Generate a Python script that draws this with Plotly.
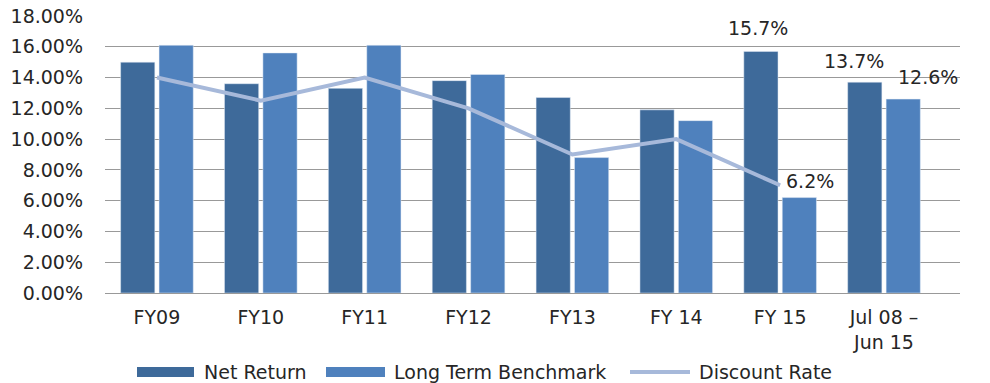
import plotly.graph_objects as go

categories = ["FY09", "FY10", "FY11", "FY12", "FY13", "FY 14", "FY 15", "Jul 08 –<br>Jun 15"]
net_return = [15.0, 13.6, 13.3, 13.8, 12.7, 11.9, 15.7, 13.7]
long_term_benchmark = [16.1, 15.6, 16.1, 14.2, 8.8, 11.2, 6.2, 12.6]
discount_rate = [14.0, 12.5, 14.0, 12.0, 9.0, 10.0, 7.0, None]
y_ticks = [0, 2, 4, 6, 8, 10, 12, 14, 16, 18]
y_tick_text = ["0.00%", "2.00%", "4.00%", "6.00%", "8.00%", "10.00%", "12.00%", "14.00%", "16.00%", "18.00%"]

# labels shown on selected bars: (series, category index, text, extra x shift, y shift)
bar_labels = [
    ("net", 6, "15.7%", 0, 23),
    ("bench", 6, "6.2%", 8, 17),
    ("net", 7, "13.7%", -8, 21),
    ("bench", 7, "12.6%", 22, 22),
]

DARK = "#3E6A9A"
LIGHT = "#4F81BD"
LINE = "#A7B9DA"
TEXT = "#262626"
FONT = "DejaVu Sans"

fig = go.Figure()
fig.add_trace(go.Bar(x=categories, y=net_return, name="Net Return", marker_color=DARK))
fig.add_trace(go.Bar(x=categories, y=long_term_benchmark, name="Long Term Benchmark", marker_color=LIGHT))
fig.add_trace(go.Scatter(x=categories, y=discount_rate, name="Discount Rate", mode="lines",
                         line=dict(color=LINE, width=4)))

BAR_OFFSET = 22
for series, idx, txt, dx, dy in bar_labels:
    val = net_return[idx] if series == "net" else long_term_benchmark[idx]
    off = -BAR_OFFSET if series == "net" else BAR_OFFSET
    fig.add_annotation(x=categories[idx], y=val, text=txt, showarrow=False,
                       xshift=off + dx, yshift=dy, yanchor="middle",
                       font=dict(family=FONT, size=19, color=TEXT))

# custom legend (wide swatches like the reference)
items = [
    ("rect", DARK, 137, 194, 202, "Net Return"),
    ("rect", LIGHT, 326, 385, 392, "Long Term Benchmark"),
    ("line", LINE, 630, 690, 697, "Discount Rate"),
]
L, R = 105, 30
W = 990 - L - R
T, B = 16, 90
H = 383 - T - B
def px2paper_x(px):
    return (px - L) / W
def py2paper_y(py):
    return (383 - B - py) / H

cy = 372
for kind, col, x0, x1, tx, label in items:
    if kind == "rect":
        fig.add_shape(type="rect", xref="paper", yref="paper",
                      x0=px2paper_x(x0), x1=px2paper_x(x1),
                      y0=py2paper_y(cy + 5), y1=py2paper_y(cy - 5),
                      fillcolor=col, line=dict(width=0))
    else:
        fig.add_shape(type="line", xref="paper", yref="paper",
                      x0=px2paper_x(x0), x1=px2paper_x(x1),
                      y0=py2paper_y(cy), y1=py2paper_y(cy),
                      line=dict(color=col, width=4))
    fig.add_annotation(xref="paper", yref="paper", x=px2paper_x(tx), y=py2paper_y(cy),
                       xanchor="left", yanchor="middle", text=label, showarrow=False,
                       font=dict(family=FONT, size=19, color=TEXT))

fig.update_layout(
    width=990, height=383,
    margin=dict(l=L, r=R, t=T, b=B, autoexpand=False),
    paper_bgcolor="white", plot_bgcolor="white",
    barmode="group", bargap=0.26, bargroupgap=0.11,
    showlegend=False,
    font=dict(family=FONT, color=TEXT),
)
fig.update_xaxes(showgrid=False, showline=False, ticks="", automargin=False,
                 tickfont=dict(family=FONT, size=19, color=TEXT),
                 ticklabelstandoff=11)
fig.update_yaxes(range=[0, 18], tickvals=y_ticks, ticktext=y_tick_text, automargin=False,
                 showgrid=True, gridcolor="#999999", gridwidth=1.3,
                 zeroline=True, zerolinecolor="#999999", zerolinewidth=1.3,
                 showline=False, ticks="",
                 tickfont=dict(family=FONT, size=19, color=TEXT),
                 ticklabelstandoff=21)

fig.write_html("out.html")
